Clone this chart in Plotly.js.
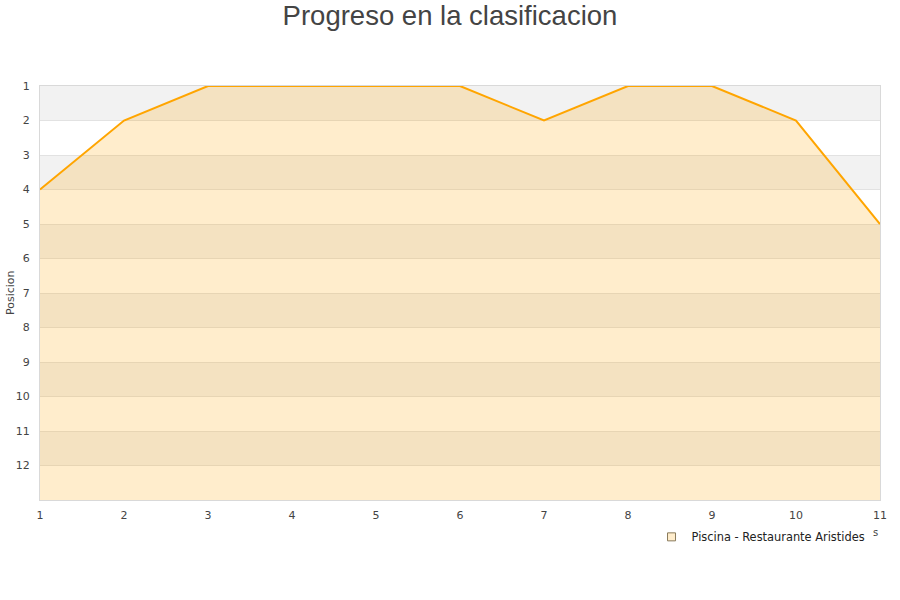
<!DOCTYPE html>
<html>
<head>
<meta charset="utf-8">
<script src="https://cdn.plot.ly/plotly-3.0.1.min.js"></script>
<style>html,body{margin:0;padding:0;background:#fff;}</style>
</head>
<body>
<div id="chart" style="width:900px;height:600px;"></div>
<script>
const jornadas = [1, 2, 3, 4, 5, 6, 7, 8, 9, 10, 11];
const posicion = [4, 2, 1, 1, 1, 1, 2, 1, 1, 2, 5];
const baseline = [13, 13, 13, 13, 13, 13, 13, 13, 13, 13, 13];
const yTicks = [1, 2, 3, 4, 5, 6, 7, 8, 9, 10, 11, 12];
const bandStarts = [1, 3, 5, 7, 9, 11];
const seriesName = 'Piscina - Restaurante Aristides';

const shapes = bandStarts.map(b => ({
  type: 'rect', xref: 'paper', yref: 'y', x0: 0, x1: 1, y0: b, y1: b + 1,
  fillcolor: '#f2f2f2', line: {width: 0}, layer: 'below'
}));

const traces = [
  {x: jornadas, y: baseline, mode: 'lines', line: {width: 0}, hoverinfo: 'skip', showlegend: false},
  {x: jornadas, y: posicion, mode: 'lines', fill: 'tonexty', fillcolor: 'rgba(255,165,0,0.2)',
   line: {color: '#ffa500', width: 2}, showlegend: false, name: seriesName},
  {x: [null], y: [null], mode: 'markers', name: seriesName,
   marker: {symbol: 'square', size: 8, color: '#ffedcc', line: {color: '#8a7a5a', width: 1}}}
];

const layout = {
  width: 900, height: 600,
  margin: {l: 40, r: 20, t: 86, b: 100},
  paper_bgcolor: '#ffffff', plot_bgcolor: 'rgba(0,0,0,0)',
  font: {family: 'DejaVu Sans', size: 11, color: '#444'},
  title: {text: 'Progreso en la clasificacion', x: 0.5, xanchor: 'center', y: 0.975, yanchor: 'middle',
          font: {family: 'Liberation Sans', size: 27.5, color: '#444'}},
  xaxis: {range: [1, 11], tickvals: jornadas, ticktext: jornadas.map(String), showgrid: false,
          zeroline: false, showline: true, linecolor: '#d9d9d9', linewidth: 1, mirror: true,
          ticks: '', ticklabelstandoff: 5, tickfont: {size: 11, color: '#444'}},
  yaxis: {range: [13, 1], tickvals: yTicks, ticktext: yTicks.map(String), showgrid: true,
          gridcolor: '#e2e2e2', zeroline: false, showline: true, linecolor: '#d9d9d9', linewidth: 1,
          mirror: true, ticks: '', ticklabelstandoff: 7, tickfont: {size: 11, color: '#444'}},
  shapes: shapes,
  showlegend: true,
  legend: {x: 0.728, xanchor: 'left', y: -0.089, yanchor: 'middle', orientation: 'h',
           font: {family: 'DejaVu Sans', size: 11.4, color: '#222'}, bgcolor: 'rgba(0,0,0,0)'},
  annotations: [
    {text: 'Posicion', xref: 'paper', yref: 'paper', x: -0.0357, y: 0.5, xanchor: 'center', yanchor: 'middle',
     textangle: -90, showarrow: false, font: {size: 11, color: '#444'}},
    {text: 's', xref: 'paper', yref: 'paper', x: 0.9945, y: -0.078, xanchor: 'center', yanchor: 'middle',
     showarrow: false, font: {size: 10, color: '#444'}}
  ]
};

Plotly.newPlot('chart', traces, layout, {displayModeBar: false, staticPlot: true});
</script>
</body>
</html>
